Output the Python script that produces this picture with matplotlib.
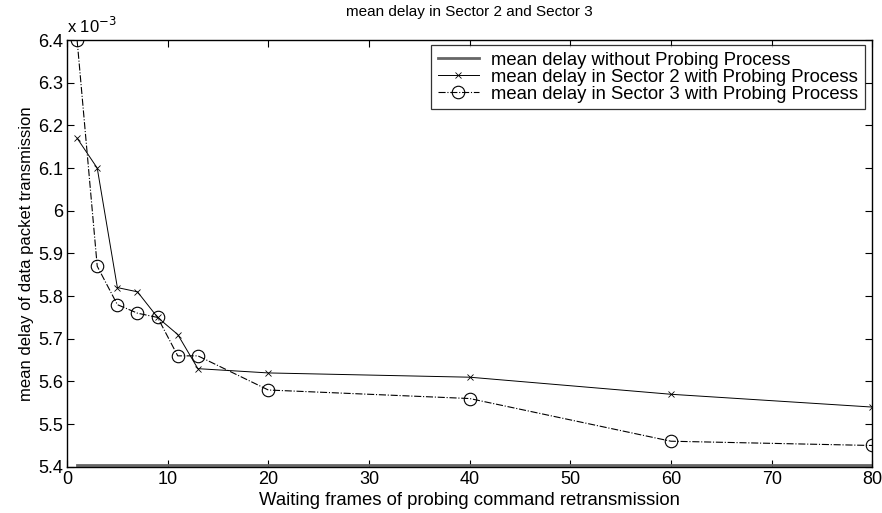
import matplotlib.pyplot as plt
import numpy as np

plt.rcParams['font.family'] = ['Liberation Sans', 'DejaVu Sans']

# waiting frames (x) and mean delay values (units of 1e-3 s)
frames = [1, 3, 5, 7, 9, 11, 13, 20, 40, 60, 80]
delay_no_probe = [5.405] * len(frames)
delay_sector2 = [6.17, 6.10, 5.82, 5.81, 5.75, 5.71, 5.63, 5.62, 5.61, 5.57, 5.54]
delay_sector3 = [6.40, 5.87, 5.78, 5.76, 5.75, 5.66, 5.66, 5.58, 5.56, 5.46, 5.45]

labels = ['mean delay without Probing Process',
          'mean delay in Sector 2 with Probing Process',
          'mean delay in Sector 3 with Probing Process']
ytick_vals = [5.4, 5.5, 5.6, 5.7, 5.8, 5.9, 6.0, 6.1, 6.2, 6.3, 6.4]
ytick_text = ['5.4', '5.5', '5.6', '5.7', '5.8', '5.9', '6', '6.1', '6.2', '6.3', '6.4']


def main():
    fig = plt.figure(figsize=(8.82, 5.13), dpi=100)
    ax = fig.add_axes([0.076, 0.09, 0.913, 0.832])

    ax.plot(frames, delay_no_probe, color='#666666', lw=2.0, label=labels[0])
    ax.plot(frames, delay_sector2, color='black', lw=0.7, marker='x', ms=5,
            mew=0.6, label=labels[1])
    ax.plot(frames, delay_sector3, color='black', lw=0.8, ls='-.', marker='o',
            ms=9, mfc='none', mew=0.8, label=labels[2])

    ax.set_xlim(0, 80)
    ax.set_ylim(5.4, 6.4)
    ax.set_xticks(np.arange(0, 81, 10))
    ax.set_yticks(ytick_vals)
    ax.set_yticklabels(ytick_text)
    ax.tick_params(direction='in', top=True, right=True, labelsize=13,
                   length=5, width=0.8, pad=3)
    for s in ax.spines.values():
        s.set_linewidth(1.0)

    ax.text(0.0, 1.01, r'x 10$^{-3}$', transform=ax.transAxes, fontsize=12,
            ha='left', va='bottom')
    ax.set_title('mean delay in Sector 2 and Sector 3', fontsize=11, pad=17)
    ax.set_xlabel('Waiting frames of probing command retransmission',
                  fontsize=13.3, labelpad=3)
    ax.set_ylabel('mean delay of data packet transmission', fontsize=12,
                  labelpad=3)

    leg = ax.legend(loc='upper right', bbox_to_anchor=(0.991, 0.988),
                    fontsize=13.3, frameon=True, fancybox=False,
                    borderpad=0.35, labelspacing=0.0, handlelength=2.2,
                    handletextpad=0.7, borderaxespad=0.0)
    leg.get_frame().set_edgecolor('black')
    leg.get_frame().set_linewidth(0.9)

    fig.savefig('out.png', dpi=100)


if __name__ == '__main__':
    main()
